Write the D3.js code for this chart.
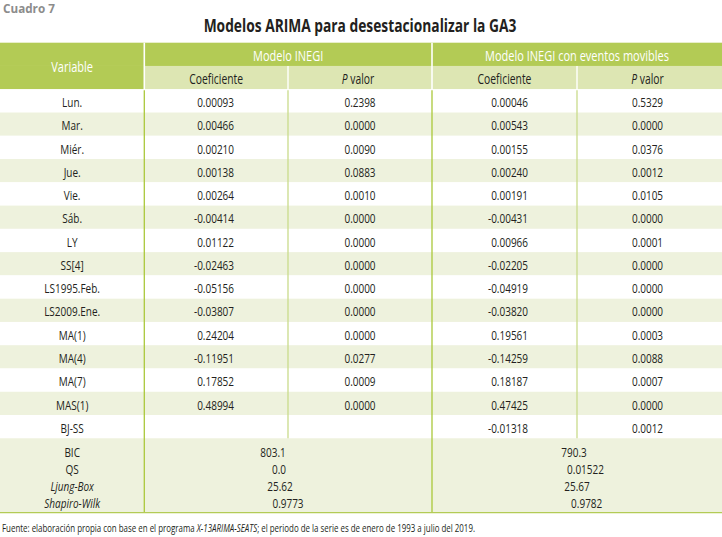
<!DOCTYPE html>
<html><head><meta charset="utf-8">
<script src="https://cdn.jsdelivr.net/npm/d3@7"></script>
<style>html,body{margin:0;padding:0;background:#fff;}svg{display:block;}</style>
</head><body>
<script>
// ---------- data ----------
const cuadro = "Cuadro 7";
const title = "Modelos ARIMA para desestacionalizar la GA3";
const groups = ["Modelo INEGI", "Modelo INEGI con eventos movibles"];
const subHeaders = ["Coeficiente", "P valor"];
const variables = ["Lun.","Mar.","Miér.","Jue.","Vie.","Sáb.","LY","SS[4]","LS1995.Feb.","LS2009.Ene.","MA(1)","MA(4)","MA(7)","MAS(1)","BJ-SS"];
const coefINEGI = ["0.00093","0.00466","0.00210","0.00138","0.00264","-0.00414","0.01122","-0.02463","-0.05156","-0.03807","0.24204","-0.11951","0.17852","0.48994",""];
const pINEGI    = ["0.2398","0.0000","0.0090","0.0883","0.0010","0.0000","0.0000","0.0000","0.0000","0.0000","0.0000","0.0277","0.0009","0.0000",""];
const coefMov   = ["0.00046","0.00543","0.00155","0.00240","0.00191","-0.00431","0.00966","-0.02205","-0.04919","-0.03820","0.19561","-0.14259","0.18187","0.47425","-0.01318"];
const pMov      = ["0.5329","0.0000","0.0376","0.0012","0.0105","0.0000","0.0001","0.0000","0.0000","0.0000","0.0003","0.0088","0.0007","0.0000","0.0012"];
const statLabels = ["BIC","QS","Ljung-Box","Shapiro-Wilk"];
const statItalic = [false,false,true,true];
const statINEGI = ["803.1","0.0","25.62","0.9773"];
const statMov   = ["790.3","0.01522","25.67","0.9782"];
const footerParts = [
  {t:"Fuente: elaboración propia con base en el programa ", i:false},
  {t:"X-13ARIMA-SEATS", i:true},
  {t:"; el periodo de la serie es de enero de 1993 a julio del 2019.", i:false}
];

// ---------- style ----------
const W = 722, H = 537;
const FONT = "'Open Sans', Lato, sans-serif";
const SX = 0.74;
const C = {dark:"#b3cb55", light:"#dde6b3", stripe:"#eef2dd", line:"#aac83a", line2:"#c9db8b", text:"#231f20", grey:"#8c8c8c"};

const svg = d3.select("body").append("svg").attr("width", W).attr("height", H);

function txt(parent, x, y, parts, o) {
  o = o || {};
  const g = parent.append("g").attr("transform", `translate(${x},${y}) scale(${o.sx ?? SX},1)`);
  const t = g.append("text")
    .attr("text-anchor", o.anchor || "middle")
    .attr("dominant-baseline", "central")
    .attr("font-family", o.font || FONT)
    .attr("font-size", o.size || 13)
    .attr("font-weight", o.weight || 400)
    .attr("fill", o.fill || C.text);
  if (typeof parts === "string") parts = [{t:parts, i:!!o.italic}];
  parts.forEach(p => t.append("tspan").attr("font-style", p.i ? "italic" : "normal").text(p.t));
  return t;
}

// ---------- scales ----------
const top0 = 42.7, rowH = 23.27;
const yHead = d3.scaleBand().domain([0,1]).range([top0, top0 + 2*rowH]);
const bodyTop = top0 + 2*rowH;
const yRow = d3.scaleBand().domain(d3.range(variables.length)).range([bodyTop, bodyTop + variables.length*rowH]);
const statTop = bodyTop + variables.length*rowH;
const tableBottom = 512.7;
const yStat = d3.scaleBand().domain(d3.range(statLabels.length)).range([statTop + 5, tableBottom - 2]);
// column edges: variable | coef1 | p1 | coef2 | p2
const xCol = d3.scaleOrdinal().domain([0,1,2,3,4,5]).range([0, 144.3, 288, 432, 577, 722]);

// ---------- title ----------
txt(svg, 3, 8, cuadro, {anchor:"start", size:13, weight:700, fill:C.grey, sx:0.9});
txt(svg, 360, 25.5, title, {size:18.5, weight:700, sx:0.745});

// ---------- header ----------
svg.append("rect").attr("x", xCol(0)).attr("y", yHead(0)).attr("width", W).attr("height", rowH).attr("fill", C.dark);
svg.append("rect").attr("x", xCol(0)).attr("y", yHead(1)).attr("width", xCol(1)).attr("height", rowH).attr("fill", C.dark);
svg.append("rect").attr("x", xCol(1)).attr("y", yHead(1)).attr("width", W - xCol(1)).attr("height", rowH).attr("fill", C.light);

// ---------- body stripes ----------
svg.selectAll("rect.row").data(variables).join("rect")
  .attr("class","row")
  .attr("x", 0).attr("y", (d,i) => yRow(i)).attr("width", W).attr("height", yRow.bandwidth())
  .attr("fill", (d,i) => i % 2 ? C.stripe : "#fff");
svg.append("rect").attr("x",0).attr("y",statTop).attr("width",W).attr("height",tableBottom-statTop).attr("fill",C.stripe);

// ---------- lines ----------
[1,3].forEach(k => {
  svg.append("line").attr("x1",xCol(k)).attr("x2",xCol(k)).attr("y1",top0).attr("y2",bodyTop).attr("stroke","#fff").attr("stroke-width",1.6);
  svg.append("line").attr("x1",xCol(k)).attr("x2",xCol(k)).attr("y1",bodyTop+1).attr("y2",tableBottom).attr("stroke",C.line).attr("stroke-width",1.3);
});
[2,4].forEach(k => {
  svg.append("line").attr("x1",xCol(k)).attr("x2",xCol(k)).attr("y1",yHead(1)).attr("y2",bodyTop).attr("stroke","#fff").attr("stroke-width",1.4);
  svg.append("line").attr("x1",xCol(k)).attr("x2",xCol(k)).attr("y1",bodyTop+1).attr("y2",statTop).attr("stroke",C.line2).attr("stroke-width",1.3);
});
svg.append("line").attr("x1",0).attr("x2",W).attr("y1",tableBottom).attr("y2",tableBottom).attr("stroke",C.dark).attr("stroke-width",1.3);

// ---------- header text ----------
const hc = (k) => (xCol(k) + xCol(k+1)) / 2;
txt(svg, hc(0), top0 + rowH, "Variable", {size:14.5, fill:"#fff", sx:0.76});
txt(svg, (xCol(1)+xCol(3))/2, yHead(0) + rowH/2 + 1, groups[0], {size:14.5, fill:"#fff", sx:0.76});
txt(svg, (xCol(3)+xCol(5))/2, yHead(0) + rowH/2 + 1, groups[1], {size:14.5, fill:"#fff", sx:0.76});
[1,3].forEach(k => {
  txt(svg, hc(k), yHead(1) + rowH/2 + 1, subHeaders[0], {size:14, sx:0.74});
  txt(svg, hc(k+1) - 2, yHead(1) + rowH/2 + 1, [{t:"P ", i:true},{t:"valor", i:false}], {size:14, sx:0.74});
});

// ---------- body text ----------
const cy = i => yRow(i) + yRow.bandwidth()/2 + 0.5;
variables.forEach((v,i) => {
  txt(svg, hc(0), cy(i), v, {size:13.5});
  if (coefINEGI[i]) txt(svg, 234, cy(i), coefINEGI[i], {size:13.5, anchor:"end"});
  if (pINEGI[i]) txt(svg, hc(2), cy(i), pINEGI[i], {size:13.5});
  if (coefMov[i]) txt(svg, 528, cy(i), coefMov[i], {size:13.5, anchor:"end"});
  if (pMov[i]) txt(svg, hc(4) - 2, cy(i), pMov[i], {size:13.5});
});

// ---------- stats ----------
const dx1 = [-15, -9, -8, 0], dx2 = [-3, 8.5, 0, 9.7];
statLabels.forEach((s,i) => {
  const y = yStat(i) + yStat.bandwidth()/2;
  txt(svg, hc(0), y, s, {size:13.5, italic:statItalic[i]});
  txt(svg, xCol(2) + dx1[i], y, statINEGI[i], {size:13.5});
  txt(svg, xCol(4) + dx2[i], y, statMov[i], {size:13.5});
});

// ---------- footer ----------
txt(svg, 2, 527.5, footerParts, {anchor:"start", size:11, sx:0.72});
</script>
</body></html>
